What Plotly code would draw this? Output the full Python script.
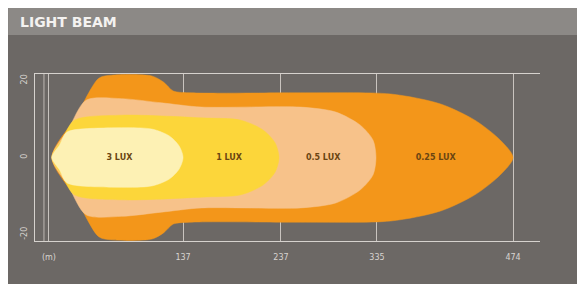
import plotly.graph_objects as go

# ---- data ----
lux_labels = ["0.25 LUX", "0.5 LUX", "1 LUX", "3 LUX"]
lux_colors = ["#f3961a", "#f7c28a", "#fcd63a", "#fdf1b4"]
label_x = [395, 280, 184, 72]          # metres, where the labels sit

# upper half outlines of each isolux zone (x metres, y metres), left to right
zone_025_x = [3, 27, 51, 64, 105, 117, 127, 146, 257, 349, 400, 435, 461, 474]
zone_025_y = [0, 10.3, 20.6, 21.4, 21.2, 19.6, 17.3, 16.8, 16.8, 16.5, 13.9, 9.7, 4.5, 0]
zone_05_x = [3, 20, 38, 74, 115, 156, 257, 293, 318, 331, 334]
zone_05_y = [0, 7.4, 14.9, 15.3, 14.2, 13.1, 13.1, 11.8, 8.4, 4.5, 0]
zone_1_x = [3, 14, 26, 74, 156, 196, 219, 231, 235]
zone_1_y = [0, 4.9, 9.7, 11.0, 10.3, 9.7, 7.1, 3.8, 0]
zone_3_x = [3, 11, 18.5, 64, 105, 123, 133, 137]
zone_3_y = [0, 3.3, 6.6, 7.7, 7.4, 5.6, 3.0, 0]

x_tickvals = [0, 137, 237, 335, 474]
x_ticktext = ["(m)", "137", "237", "335", "474"]
y_tickvals = [20, 0, -20]
y_ticktext = ["20", "0", "-20"]

zones_x = [zone_025_x, zone_05_x, zone_1_x, zone_3_x]
zones_y = [zone_025_y, zone_05_y, zone_1_y, zone_3_y]

fig = go.Figure()
for zx, zy, col, name in zip(zones_x, zones_y, lux_colors, lux_labels):
    xs = list(zx) + list(reversed(zx[:-1]))
    ys = list(zy) + [-v for v in reversed(zy[:-1])]
    fig.add_trace(go.Scatter(
        x=xs, y=ys, mode="lines", fill="toself", fillcolor=col,
        line=dict(color=col, width=0.5, shape="spline", smoothing=0.8),
        name=name, hoverinfo="name", showlegend=False))

fig.add_trace(go.Scatter(
    x=label_x, y=[0] * len(label_x), mode="text",
    text=["<b>" + t + "</b>" for t in lux_labels],
    textfont=dict(family="DejaVu Sans", size=8, color="#6a4512"),
    showlegend=False, hoverinfo="skip"))

# ---- layout (figure pixel coordinates) ----
W, H = 585, 284
L, T = 25, 66
PR, PB = 532, 233
R, B = W - PR, H - PB
pw, ph = PR - L, PB - T


def px(x):
    return (x - L) / pw


def py(y):
    return (PB - y) / ph


panel = "#6c6865"
fig.update_layout(
    width=W, height=H,
    margin=dict(l=L, r=R, t=T, b=B, pad=0),
    paper_bgcolor=panel, plot_bgcolor=panel,
    shapes=[
        dict(type="rect", xref="paper", yref="paper", x0=px(-2), x1=px(W + 2),
             y0=py(27), y1=py(-2), fillcolor="#8c8986", line_width=0, layer="below"),
        dict(type="line", xref="paper", yref="paper", x0=px(34), x1=px(34),
             y0=0, y1=1, line=dict(color="#bdb8b3", width=1), layer="below"),
    ],
    annotations=[
        dict(text="<b>LIGHT BEAM</b>", xref="paper", yref="paper", x=px(8), y=py(14),
             xanchor="left", yanchor="middle", showarrow=False,
             font=dict(family="DejaVu Sans", size=14, color="#f4f2f0")),
    ],
    xaxis=dict(range=[-14.2, 501.5], tickvals=x_tickvals, ticktext=x_ticktext,
               showgrid=True, gridcolor="#c9c4bf", gridwidth=1, zeroline=False,
               showline=True, linecolor="#d6d2ce", linewidth=1, mirror=True,
               ticks="", ticklabelstandoff=8,
               tickfont=dict(family="DejaVu Sans", size=8, color="#d8d4d0"),
               fixedrange=True),
    yaxis=dict(range=[-21.7, 21.7], tickvals=y_tickvals, ticktext=y_ticktext,
               tickangle=-90, showgrid=False, zeroline=False,
               showline=True, linecolor="#d6d2ce", linewidth=1,
               ticks="", ticklabelstandoff=4,
               tickfont=dict(family="DejaVu Sans", size=8, color="#d8d4d0"),
               fixedrange=True),
)

fig.write_html("out.html")
